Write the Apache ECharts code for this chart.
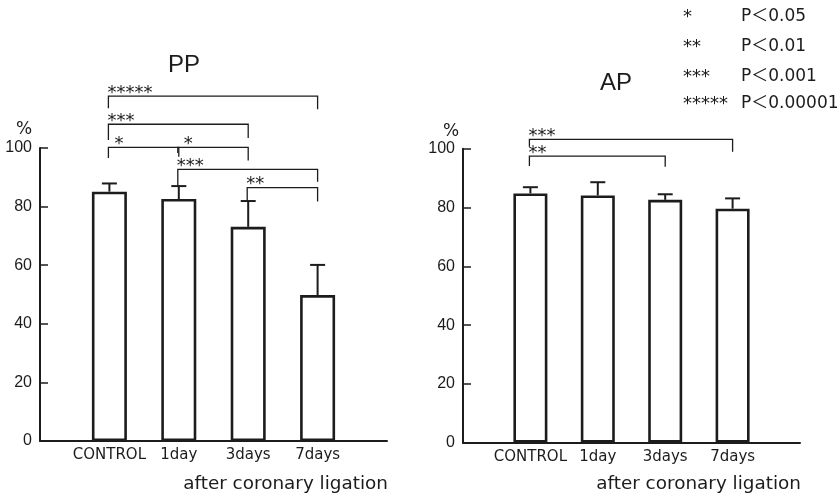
<!DOCTYPE html>
<html>
<head>
<meta charset="utf-8">
<script src="https://cdn.jsdelivr.net/npm/echarts@6/dist/echarts.min.js"></script>
<style>html,body{margin:0;padding:0;background:#fff;}#c{width:839px;height:498px;}</style>
</head>
<body>
<div id="c"></div>
<script>
// ---- data ----
var categories = ['', 'CONTROL', '1day', '3days', '7days', ''];
var yTicks = [0, 20, 40, 60, 80, 100];
var ppMean = [85.1, 82.6, 73.1, 49.8];
var ppUpper = [87.9, 87.0, 81.9, 60.1];
var apMean = [84.8, 84.1, 82.6, 79.6];
var apUpper = [86.9, 88.6, 84.5, 83.1];
// brackets: [fromIndex, toIndex, top, leftLegEnd, rightLegEnd]
var ppBrackets = [[1, 4, 117.7, 113.6, 113.2], [1, 3, 108.1, 102.7, 103.4], [1, 2, 100.2, 96.6, 97.0], [2, 3, 100.2, 98.3, 95.7], [2, 4, 92.7, 87.1, 88.5], [3, 4, 86.5, 81.9, 81.7]];
var ppBracketLabels = ['*****', '***', '*', '*', '***', '**'];
var apBrackets = [[1, 4, 103.2, 100.7, 99.0], [1, 3, 97.5, 94.1, 93.9]];
var apBracketLabels = ['***', '**'];
var legendStars = ['*', '**', '***', '*****'];
var legendP = ['P＜0.05', 'P＜0.01', 'P＜0.001', 'P＜0.00001'];
var titles = ['PP', 'AP'];
var xName = 'after coronary ligation';

var INK = '#1c1c1c';

function xAxis(gi) {
  return {
    gridIndex: gi, type: 'category', data: categories, boundaryGap: false,
    axisLine: {lineStyle: {color: INK, width: 2}},
    axisTick: {show: false},
    axisLabel: {color: INK, fontSize: 15, fontFamily: 'DejaVu Sans', margin: 7, interval: 0},
    splitLine: {show: false}
  };
}
function yAxis(gi) {
  return {
    gridIndex: gi, type: 'value', min: 0, max: 100, interval: 20,
    axisLine: {show: true, lineStyle: {color: INK, width: 2}},
    axisTick: {show: true, inside: true, length: 8, lineStyle: {color: INK, width: 1.5}},
    axisLabel: {color: INK, fontSize: 16, fontFamily: 'Liberation Sans', margin: 8},
    splitLine: {show: false}
  };
}
function barSeries(gi, vals, bw) {
  return {
    type: 'bar', xAxisIndex: gi, yAxisIndex: gi, barWidth: bw,
    data: vals.map(function (v, i) { return [i + 1, v]; }),
    itemStyle: {color: '#fff', borderColor: INK, borderWidth: 2.6},
    z: 3
  };
}
function errSeries(gi, mean, upper) {
  return {
    type: 'custom', xAxisIndex: gi, yAxisIndex: gi, clip: false, z: 2,
    data: mean.map(function (m, i) { return [i + 1, m, upper[i]]; }),
    renderItem: function (params, api) {
      var p0 = api.coord([api.value(0), api.value(1)]);
      var p1 = api.coord([api.value(0), api.value(2)]);
      var st = {stroke: INK, lineWidth: 2, fill: null};
      return {type: 'group', children: [
        {type: 'line', shape: {x1: p0[0], y1: p0[1], x2: p1[0], y2: p1[1]}, style: st},
        {type: 'line', shape: {x1: p1[0] - 7.5, y1: p1[1], x2: p1[0] + 7.5, y2: p1[1]}, style: st}
      ]};
    }
  };
}
function bracketSeries(gi, br, labels) {
  return {
    type: 'custom', xAxisIndex: gi, yAxisIndex: gi, clip: false, z: 4,
    data: br,
    renderItem: function (params, api) {
      var a = api.coord([api.value(0), api.value(2)]);
      var b = api.coord([api.value(1), api.value(2)]);
      var la = api.coord([api.value(0), api.value(3)]);
      var lb = api.coord([api.value(1), api.value(4)]);
      var txt = labels[params.dataIndex];
      return {type: 'group', children: [
        {type: 'polyline', shape: {points: [[la[0] - 1, la[1]], [a[0] - 1, a[1]], [b[0], b[1]], [lb[0], lb[1]]]},
          style: {stroke: INK, lineWidth: 1.3, fill: null}},
        {type: 'text', x: a[0] - 2 + (txt.length === 1 ? 7 : 0), y: a[1] - 3,
          style: {text: txt, fill: INK, font: '18px DejaVu Sans', textAlign: 'left', textVerticalAlign: 'middle'}}
      ]};
    }
  };
}

var graphics = [
  {type: 'text', left: 168, top: 53, style: {text: titles[0], fill: INK, font: '24px Liberation Sans'}},
  {type: 'text', left: 600, top: 71, style: {text: titles[1], fill: INK, font: '24px Liberation Sans'}},
  {type: 'text', left: 16, top: 121, style: {text: '%', fill: INK, font: '17px DejaVu Sans'}},
  {type: 'text', left: 443, top: 123, style: {text: '%', fill: INK, font: '17px DejaVu Sans'}},
  {type: 'text', right: 839 - 388, top: 475, style: {text: xName, fill: INK, font: '18.4px DejaVu Sans'}},
  {type: 'text', right: 839 - 801, top: 475, style: {text: xName, fill: INK, font: '18.4px DejaVu Sans'}}
];
var legendY = [15, 45, 75, 102];
legendStars.forEach(function (s, i) {
  graphics.push({type: 'text', x: 683, y: legendY[i] + 2, style: {text: s, fill: INK, font: '18px DejaVu Sans', textVerticalAlign: 'middle'}});
  graphics.push({type: 'text', x: 741, y: legendY[i] + 2, style: {text: legendP[i], fill: INK, font: "17px 'DejaVu Sans','Noto Sans CJK JP'", textVerticalAlign: 'middle'}});
});

var chart = echarts.init(document.getElementById('c'), null, {renderer: 'canvas'});
chart.setOption({
  backgroundColor: '#fff',
  animation: false,
  grid: [
    {left: 40, top: 148, width: 347, height: 293},
    {left: 463, top: 148.7, width: 337, height: 294}
  ],
  xAxis: [xAxis(0), xAxis(1)],
  yAxis: [yAxis(0), yAxis(1)],
  series: [
    errSeries(0, ppMean, ppUpper), barSeries(0, ppMean, 35), bracketSeries(0, ppBrackets, ppBracketLabels),
    errSeries(1, apMean, apUpper), barSeries(1, apMean, 34), bracketSeries(1, apBrackets, apBracketLabels)
  ],
  graphic: graphics
});
</script>
</body>
</html>
